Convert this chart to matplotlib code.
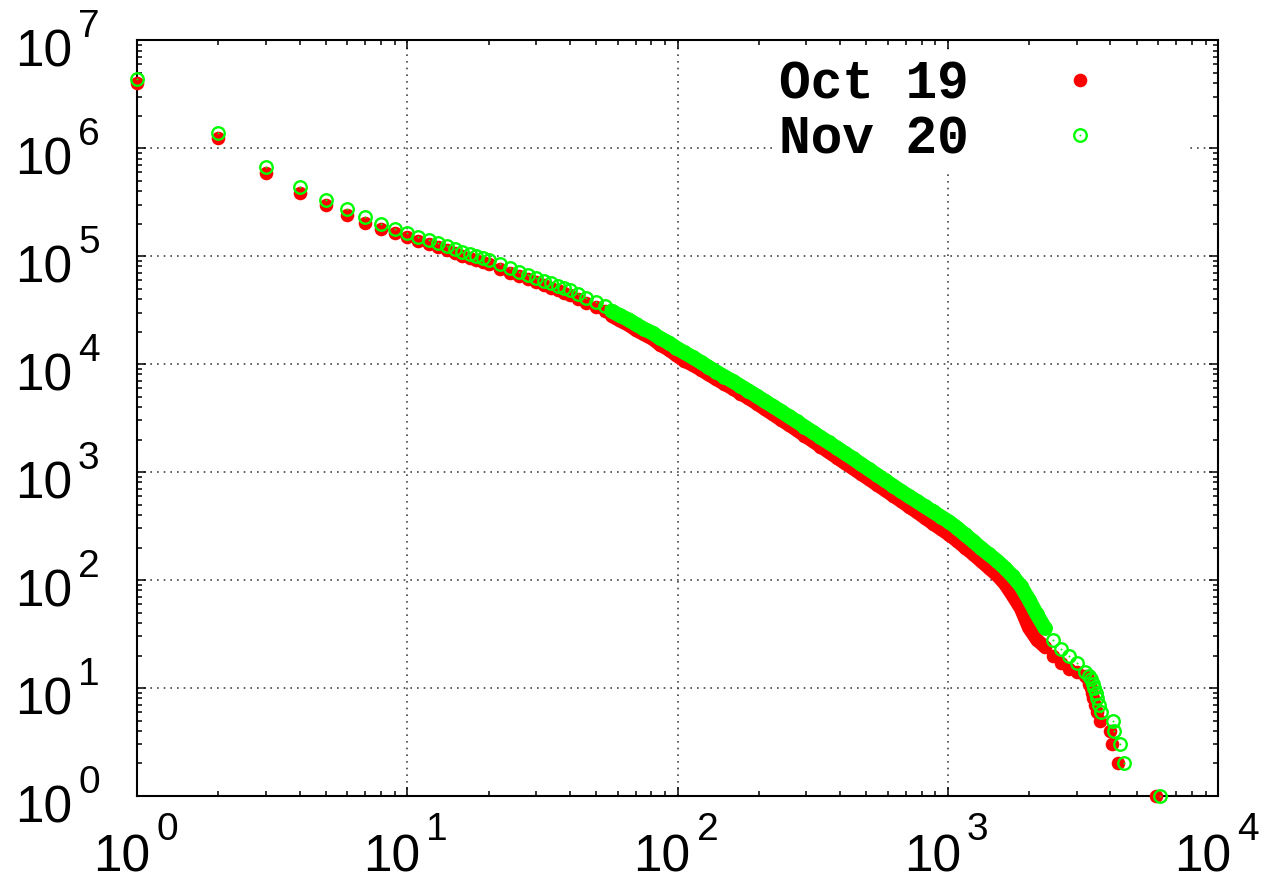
import matplotlib
matplotlib.use("Agg")
import numpy as np
import matplotlib.pyplot as plt
from matplotlib.legend_handler import HandlerTuple
from matplotlib.ticker import LogLocator

# ---------------------------------------------------------------
# data (log-log, value vs count)
# ---------------------------------------------------------------
rank = [1, 2, 3, 4, 5, 6, 7, 8, 9, 10, 11, 12, 13, 14, 15, 16, 17, 18, 19, 20,
        22, 24, 26, 28, 30, 32, 34, 36, 38, 40, 43, 46,
        50, 54, 57, 61, 66, 70, 75, 81, 86, 93, 99, 106, 114, 122, 130, 139,
        149, 160, 171, 183, 196, 210, 225, 241, 258, 276, 295, 316, 338, 362,
        388, 415, 445, 476, 510, 546, 585, 626, 670, 717, 768, 822, 880, 942,
        1009, 1080, 1156, 1238, 1325, 1419, 1519, 1626, 1741, 1864, 1995, 2136,
        2287, 2448, 2621, 2806, 3004, 3216]

oct19 = [4.0e6, 1.24e6, 5.9e5, 3.8e5, 2.97e5, 2.4e5, 2.03e5, 1.79e5, 1.63e5, 1.50e5,
         1.39e5, 1.29e5, 1.20e5, 1.13e5, 1.07e5, 1.01e5, 9.6e4, 9.2e4, 8.8e4, 8.4e4,
         7.6e4, 7.0e4, 6.5e4, 6.07e4, 5.69e4, 5.36e4, 5.08e4, 4.82e4, 4.59e4, 4.35e4,
         4.0e4, 3.7e4,
         33700, 30700, 27900, 25300, 22900, 20700, 18800, 17000, 15100, 13500,
         12000, 10700, 9750, 8850, 8010, 7230, 6530, 5910, 5330, 4810, 4310, 3830,
         3420, 3050, 2730, 2440, 2170, 1930, 1720, 1530, 1360, 1210, 1080, 962,
         858, 763, 680, 604, 539, 478, 425, 376, 333, 296, 263, 231, 200, 174,
         150, 129, 111, 92, 71, 54, 36, 28, 24, 20, 17, 15, 14, 13]

nov20 = [4.4e6, 1.37e6, 6.7e5, 4.4e5, 3.3e5, 2.7e5, 2.3e5, 1.99e5, 1.78e5, 1.63e5,
         1.51e5, 1.40e5, 1.31e5, 1.23e5, 1.17e5, 1.10e5, 1.05e5, 1.00e5, 9.57e4, 9.16e4,
         8.38e4, 7.73e4, 7.18e4, 6.68e4, 6.27e4, 5.90e4, 5.59e4, 5.31e4, 5.06e4, 4.82e4,
         4.45e4, 4.12e4,
         37500, 34100, 31000, 28200, 25700, 23400, 21200, 19300, 17400, 15700,
         14100, 12800, 11500, 10400, 9400, 8490, 7660, 6930, 6260, 5650, 5080, 4540,
         4080, 3660, 3280, 2940, 2630, 2350, 2100, 1880, 1680, 1500, 1340, 1190,
         1060, 944, 841, 748, 667, 598, 537, 480, 431, 386, 347, 305, 264, 230,
         198, 173, 151, 129, 108, 88, 66, 48, 36, 28, 23, 20, 17, 14]

# sparse tails (single integer counts)
oct19_tail_x = [3300, 3340, 3380, 3420, 3460, 3510, 3560, 3650, 4000, 4050, 4280, 5900]
oct19_tail_y = [12, 11, 10, 9, 8, 7, 6, 5, 4, 3, 2, 1]
nov20_tail_x = [3330, 3400, 3450, 3490, 3530, 3570, 3620, 3700, 4080, 4120, 4330, 4500, 6100]
nov20_tail_y = [13, 12, 11, 10, 9, 8, 7, 6, 5, 4, 3, 2, 1]

x_decades = [0, 1, 2, 3, 4]
y_decades = [0, 1, 2, 3, 4, 5, 6, 7]

RED = "#ff0000"
GREEN = "#00ff00"
PX = 0.72  # points per pixel at dpi 100

plt.rcParams["font.family"] = ["Liberation Sans", "DejaVu Sans"]

fig = plt.figure(figsize=(12.81, 8.82), dpi=100)
ax = fig.add_axes([0.10695, 0.0975, 0.8439, 0.8571])

x_oct = np.array(rank + oct19_tail_x, dtype=float)
y_oct = np.array(oct19 + oct19_tail_y, dtype=float)
x_nov = np.array(rank + nov20_tail_x, dtype=float)
y_nov = np.array(nov20 + nov20_tail_y, dtype=float)

# dense part: thousands of points overlap into a solid band
r = np.array(rank, dtype=float)
dense = (r >= 57) & (r <= 2300)
ax.plot(r[dense], np.array(oct19)[dense], color=RED, lw=9.8,
        solid_capstyle="round", solid_joinstyle="round", zorder=3)
ax.plot(r[dense], np.array(nov20)[dense], color=GREEN, lw=10.6,
        solid_capstyle="round", solid_joinstyle="round", zorder=4)

h_oct, = ax.plot(x_oct, y_oct, "o", ms=9.8, color=RED, mec=RED, mew=0,
                 linestyle="none", clip_on=False, zorder=3)
h_nov, = ax.plot(x_nov, y_nov, "o", ms=9.0, mfc="none", mec=GREEN, mew=1.7,
                 linestyle="none", clip_on=False, zorder=4)
h_dot, = ax.plot(x_nov, y_nov, "o", ms=1.4, color=GREEN, mew=0,
                 linestyle="none", clip_on=False, zorder=4)

ax.set_xscale("log")
ax.set_yscale("log")
ax.set_xlim(1, 1e4)
ax.set_ylim(1, 1e7)
ax.xaxis.set_major_locator(LogLocator(base=10, numticks=20))
ax.yaxis.set_major_locator(LogLocator(base=10, numticks=20))

ax.grid(True, which="major", linestyle=(0, (1, 3)), color="#444444", linewidth=1.2, zorder=1)
ax.tick_params(which="both", direction="in", top=True, right=True, width=1.1, colors="black",
               labelbottom=False, labelleft=False)
ax.tick_params(which="major", length=6.5)
ax.tick_params(which="minor", length=3.6)
for s in ax.spines.values():
    s.set_linewidth(1.5)

# gnuplot style tick labels: big "10" with a raised exponent
for d in y_decades:
    ax.annotate("10", xy=(0, 10.0 ** d), xycoords=("axes fraction", "data"),
                xytext=(-65 * PX, -7 * PX), textcoords="offset points",
                ha="right", va="center_baseline", fontsize=37, annotation_clip=False)
    ax.annotate(str(d), xy=(0, 10.0 ** d), xycoords=("axes fraction", "data"),
                xytext=(-59 * PX, 17 * PX), textcoords="offset points",
                ha="left", va="center_baseline", fontsize=28, annotation_clip=False)
for d in x_decades:
    ax.annotate("10", xy=(10.0 ** d, 0), xycoords=("data", "axes fraction"),
                xytext=(13 * PX, -56 * PX), textcoords="offset points",
                ha="right", va="center_baseline", fontsize=37, annotation_clip=False)
    ax.annotate(str(d), xy=(10.0 ** d, 0), xycoords=("data", "axes fraction"),
                xytext=(19 * PX, -30 * PX), textcoords="offset points",
                ha="left", va="center_baseline", fontsize=28, annotation_clip=False)

leg = ax.legend([h_oct, (h_nov, h_dot)], ["Oct 19", "Nov 20"],
                handler_map={tuple: HandlerTuple(ndivide=1, pad=0)},
                loc="upper right", bbox_to_anchor=(0.971, 0.9815), borderaxespad=0,
                markerfirst=False, numpoints=1, handlelength=3.83, handletextpad=0.19,
                labelspacing=0.1, borderpad=0.1, frameon=True, fancybox=False,
                prop={"family": "Liberation Mono", "weight": "bold", "size": 38})
leg.get_frame().set_facecolor("white")
leg.get_frame().set_edgecolor("none")
leg.get_frame().set_alpha(1)
leg.set_zorder(5)

fig.savefig("out.png", dpi=100)
